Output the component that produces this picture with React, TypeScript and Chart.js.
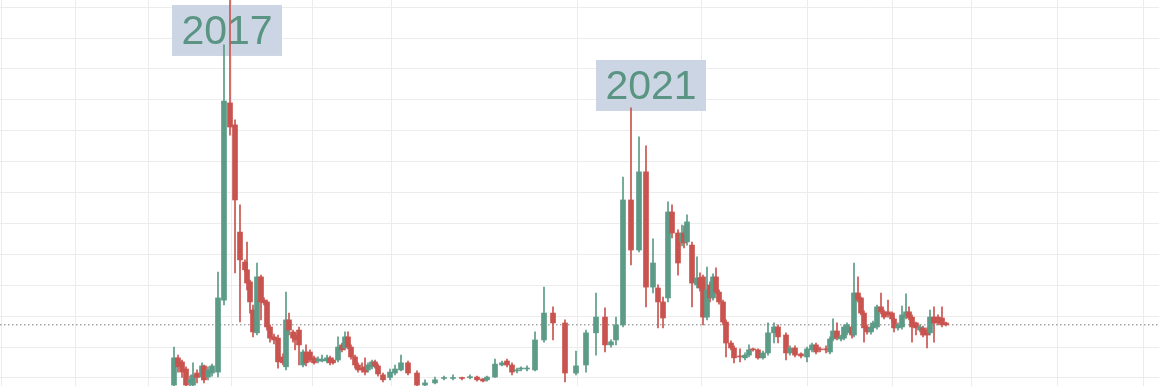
import React, { useEffect, useRef } from "react";
import { Chart, registerables } from "chart.js";

Chart.register(...registerables);

// time position of each weekly candle (arbitrary day-like units)
const times = [4,8,12,16,20,23,27,32,34,38,42,48,54,60,65,70,75,77,80,83,87,91,94,97,100,104,108,113,116,119,123,125,129,133,136,140,144,148,152,157,160,163,168,172,175,178,181,185,188,192,195,198,202,205,208,213,220,225,231,238,247,255,265,274,283,292,300,307,313,317,325,332,337,342,347,351,357,365,374,383,395,406,416,426,435,441,446,453,461,469,476,483,488,493,498,502,508,512,514,517,522,527,530,533,537,540,543,546,549,553,556,561,564,570,575,579,583,588,593,598,604,608,616,620,625,631,637,642,646,650,656,660,663,667,671,674,677,682,684,688,691,694,697,701,703,707,711,714,718,722,724,728,732,736,739,742,746,750,753,757,760,764,768,772,776];

const opens = [-2.3,6.5,5.2,2.9,-1.6,-2.3,1.6,0.3,3.9,0.3,
1.6,1.9,25.2,89.0,81.9,47.2,37.5,35.0,31.1,22.0,
14.6,32.7,25.2,24.6,16.5,13.3,12.9,6.8,3.6,18.8,
14.9,13.9,15.5,4.2,8.4,8.4,6.5,5.5,5.5,5.5,
6.5,5.8,5.8,10.7,9.7,13.3,10.0,6.8,4.2,3.2,
3.6,2.6,3.6,5.2,3.9,1.0,0,1.6,2.6,4.9,
1.6,-2.3,-1.6,-0.3,0,0,0.1,0.3,-0.3,-0.6,
0.3,4.2,5.5,4.2,2.3,2.9,2.9,2.6,12.3,21.0,
17.8,1.6,4.2,14.6,19.7,10.7,12.3,17.2,57.6,41.4,
66.7,29.4,29.1,24.6,25.9,53.7,46.9,44.0,46.9,44.0,
43.0,30.1,32.4,32.7,19.7,30.1,25.9,32.7,27.8,24.6,
18.1,11.3,9.7,7.1,6.5,7.4,9.4,9.1,6.5,8.1,
14.6,16.5,13.9,8.1,9.7,7.8,6.8,9.1,10.7,9.4,
9.4,8.4,12.6,15.2,12.6,12.9,14.6,16.5,13.9,27.5,
25.9,21.0,16.5,14.9,16.2,16.5,23.0,21.4,21.4,21.0,
19.1,16.2,16.5,19.7,21.4,19.7,17.8,15.5,16.2,15.5,
14.6,19.7,19.7,19.4,17.8];

const highs = [10.0,7.4,5.8,3.6,0.6,4.9,2.6,4.9,4.2,3.6,
4.5,34.3,107.8,125,83.5,56.0,38.2,44.0,31.7,23.6,
37.2,33.3,25.9,25.2,17.2,14.2,13.9,7.8,27.8,21.0,
15.5,14.6,16.5,9.1,10.7,9.1,7.1,6.8,7.4,7.4,
7.1,6.5,13.3,11.3,14.9,14.9,10.7,7.4,4.9,4.9,
6.5,4.9,5.8,5.8,4.5,1.6,2.9,4.2,7.4,5.5,
2.3,-0.6,0.3,0.6,1.0,0.3,1.0,0.6,0,0.6,
6.1,5.5,6.1,4.9,3.2,3.6,3.9,14.9,29.4,23.0,
18.8,8.7,15.5,27.5,22.7,12.3,19.7,65.0,87.4,78.0,
75.1,45.0,30.1,26.2,57.0,56.0,47.9,49.5,49.2,52.8,
44.0,39.2,34.0,33.3,35.9,31.1,33.7,35.6,28.5,25.2,
18.8,12.0,10.4,9.4,8.1,10.7,9.7,9.4,8.7,17.8,
17.8,17.2,14.6,10.4,10.4,8.1,10.0,11.3,11.3,10.0,
10.4,13.3,19.1,17.8,13.9,17.2,17.8,17.2,37.2,32.7,
26.2,21.7,17.2,16.8,18.4,23.6,27.5,22.0,25.2,21.4,
19.4,17.8,23.3,27.2,23.0,20.4,18.1,17.2,16.8,16.2,
22.0,23.0,20.4,23.0,18.1];

const lows = [-3.2,1.9,0,-3.2,-3.2,-2.6,-1.6,-0.6,-1.6,-0.6,
0.6,0.3,23.6,78.6,34.0,18.1,34.3,28.5,21.0,13.3,
13.9,18.8,23.6,15.5,11.6,11.0,3.2,4.2,2.6,13.9,
11.6,9.1,4.2,3.6,3.9,5.2,4.5,4.9,5.2,4.9,
4.2,4.5,5.2,8.4,9.1,9.4,6.1,3.2,1.9,1.9,
1.0,1.9,2.9,3.2,0.6,-1.3,-0.6,1.0,2.3,1.0,
-3.2,-2.9,-1.9,-0.6,-0.6,-0.6,-0.3,-1.0,-1.3,-1.0,
0,3.9,3.6,1.0,1.6,2.3,2.3,2.3,11.6,12.3,
-1.3,1.0,1.9,7.4,8.4,10.0,10.7,16.5,36.6,40.8,
23.0,27.5,16.2,16.2,24.6,45.3,33.3,42.7,42.1,43.0,
23.0,29.1,28.1,17.2,18.8,24.6,25.2,27.2,23.9,17.2,
6.8,9.1,4.9,5.2,5.8,6.8,8.7,6.1,6.1,7.4,
11.3,11.3,5.8,7.4,6.8,6.5,5.2,8.4,7.8,8.4,
8.1,7.8,12.0,12.3,12.0,12.3,13.9,12.9,13.3,24.6,
20.4,11.6,14.2,14.2,15.5,15.8,20.7,19.1,19.7,18.4,
14.9,15.5,15.8,19.1,18.8,11.6,13.9,14.9,13.3,9.7,
13.9,11.6,17.2,16.5,16.8];

const closes = [6.5,3.6,1.9,-2.3,-0.6,1.0,0,3.9,-0.6,2.6,
3.9,25.9,89.6,81.2,57.6,38.2,35.0,30.7,24.6,14.9,
32.7,24.6,24.3,16.5,12.9,12.3,5.2,4.9,18.8,15.5,
12.9,12.3,10.7,8.4,4.9,5.8,4.9,6.1,6.1,6.5,
4.9,4.9,10.0,9.1,13.3,10.0,6.8,4.2,2.6,2.6,
1.9,4.2,5.2,3.9,1.3,-0.6,1.9,2.9,4.9,1.6,
-2.3,-1.6,-0.6,0,0.3,-0.3,0.4,-0.6,-1.0,0.3,
4.5,4.9,4.2,1.9,2.6,3.2,3.2,12.3,21.0,17.8,
1.6,3.9,14.6,19.7,10.7,11.7,17.2,57.6,41.4,66.7,
29.4,37.2,24.6,19.4,53.7,46.9,37.2,46.9,43.7,50.5,
30.7,32.4,29.1,19.7,28.5,25.9,32.7,27.8,24.6,18.1,
11.3,9.7,6.5,6.8,7.4,9.1,9.1,6.5,8.1,14.6,
16.5,13.3,8.1,9.7,7.4,7.1,9.4,10.7,8.4,9.1,
9.1,12.6,15.2,12.9,13.3,16.5,17.2,13.9,27.5,25.2,
21.0,16.2,14.9,16.2,17.8,23.0,21.4,19.7,20.4,19.1,
16.2,17.2,20.4,21.4,19.4,16.5,16.2,16.5,13.9,13.9,
19.7,17.8,17.8,17.2,17.2];

// grid positions
const timeGrid = [-169, -95, -22, 61, 142, 221, 407, 531, 637, 722, 801, 887, 973];
const priceGrid = [0, 10, 20, 30, 40, 50, 60, 70, 80, 90, 100, 110, 120];

// cycle-peak annotations
const peakLabels = ["2017", "2021"];
const peakTimes = [57, 481];
const peakTops = [120.7, 102.9];

const GREEN = "#5b9b87";
const RED = "#c9534f";

export default function App() {
  const ref = useRef<HTMLCanvasElement | null>(null);

  useEffect(() => {
    document.body.style.margin = "0";
    const canvas = ref.current;
    if (!canvas) return;
    const up = closes.map((c, i) => c >= opens[i]);
    const lastClose = closes[closes.length - 1];

    const labelPlugin = {
      id: "peakLabels",
      beforeDatasetsDraw(chart: any) {
        const { ctx, scales } = chart;
        ctx.save();
        peakLabels.forEach((txt, i) => {
          const cx = scales.x.getPixelForValue(peakTimes[i]);
          const top = scales.y.getPixelForValue(peakTops[i]);
          const w = 110;
          const h = 51;
          ctx.fillStyle = "#ccd5e3";
          ctx.fillRect(cx - w / 2, top, w, h);
          ctx.fillStyle = "#5a9483";
          ctx.font = '41px "Liberation Sans", Arial, sans-serif';
          ctx.textAlign = "center";
          ctx.textBaseline = "middle";
          ctx.fillText(txt, cx, top + h / 2 + 2);
        });
        ctx.restore();
      },
    };

    const chart = new Chart(canvas, {
      type: "bar",
      data: {
        datasets: [
          {
            type: "bar",
            label: "body",
            data: times.map((t, i) => ({ x: t, y: [opens[i], closes[i]] })) as any,
            backgroundColor: up.map((u) => (u ? GREEN : RED)),
            barThickness: 5,
            minBarLength: 1,
            grouped: false,
            borderWidth: 0,
            order: 1,
          } as any,
          {
            type: "bar",
            label: "wick",
            data: times.map((t, i) => ({ x: t, y: [lows[i], highs[i]] })) as any,
            backgroundColor: up.map((u) => (u ? GREEN : RED)),
            barThickness: 1,
            grouped: false,
            borderWidth: 0,
            order: 2,
          } as any,
          {
            type: "line",
            label: "last",
            data: [
              { x: -170, y: lastClose },
              { x: 989, y: lastClose },
            ],
            borderColor: "#7a7a7a",
            borderWidth: 1,
            borderDash: [1.5, 2.5],
            pointRadius: 0,
            order: 3,
          } as any,
        ],
      },
      options: {
        animation: false,
        responsive: false,
        maintainAspectRatio: false,
        devicePixelRatio: 1,
        layout: { padding: 0 },
        plugins: { legend: { display: false }, tooltip: { enabled: false } },
        scales: {
          x: {
            type: "linear",
            min: -170,
            max: 989,
            offset: false,
            grid: { color: "#ececec", drawTicks: false, lineWidth: 1, offset: false },
            border: { display: false },
            ticks: { display: false },
            afterBuildTicks: (s: any) => {
              s.ticks = timeGrid.map((v) => ({ value: v }));
            },
          },
          y: {
            type: "linear",
            min: -2.6,
            max: 122.3,
            grid: { color: "#ececec", drawTicks: false, lineWidth: 1 },
            border: { display: false },
            ticks: { display: false },
            afterBuildTicks: (s: any) => {
              s.ticks = priceGrid.map((v) => ({ value: v }));
            },
          },
        },
      } as any,
      plugins: [labelPlugin],
    });
    return () => chart.destroy();
  }, []);

  return (
    <div style={{ position: "absolute", left: 0, top: 0, width: 1159, height: 386 }}>
      <canvas ref={ref} width={1159} height={386} />
    </div>
  );
}
